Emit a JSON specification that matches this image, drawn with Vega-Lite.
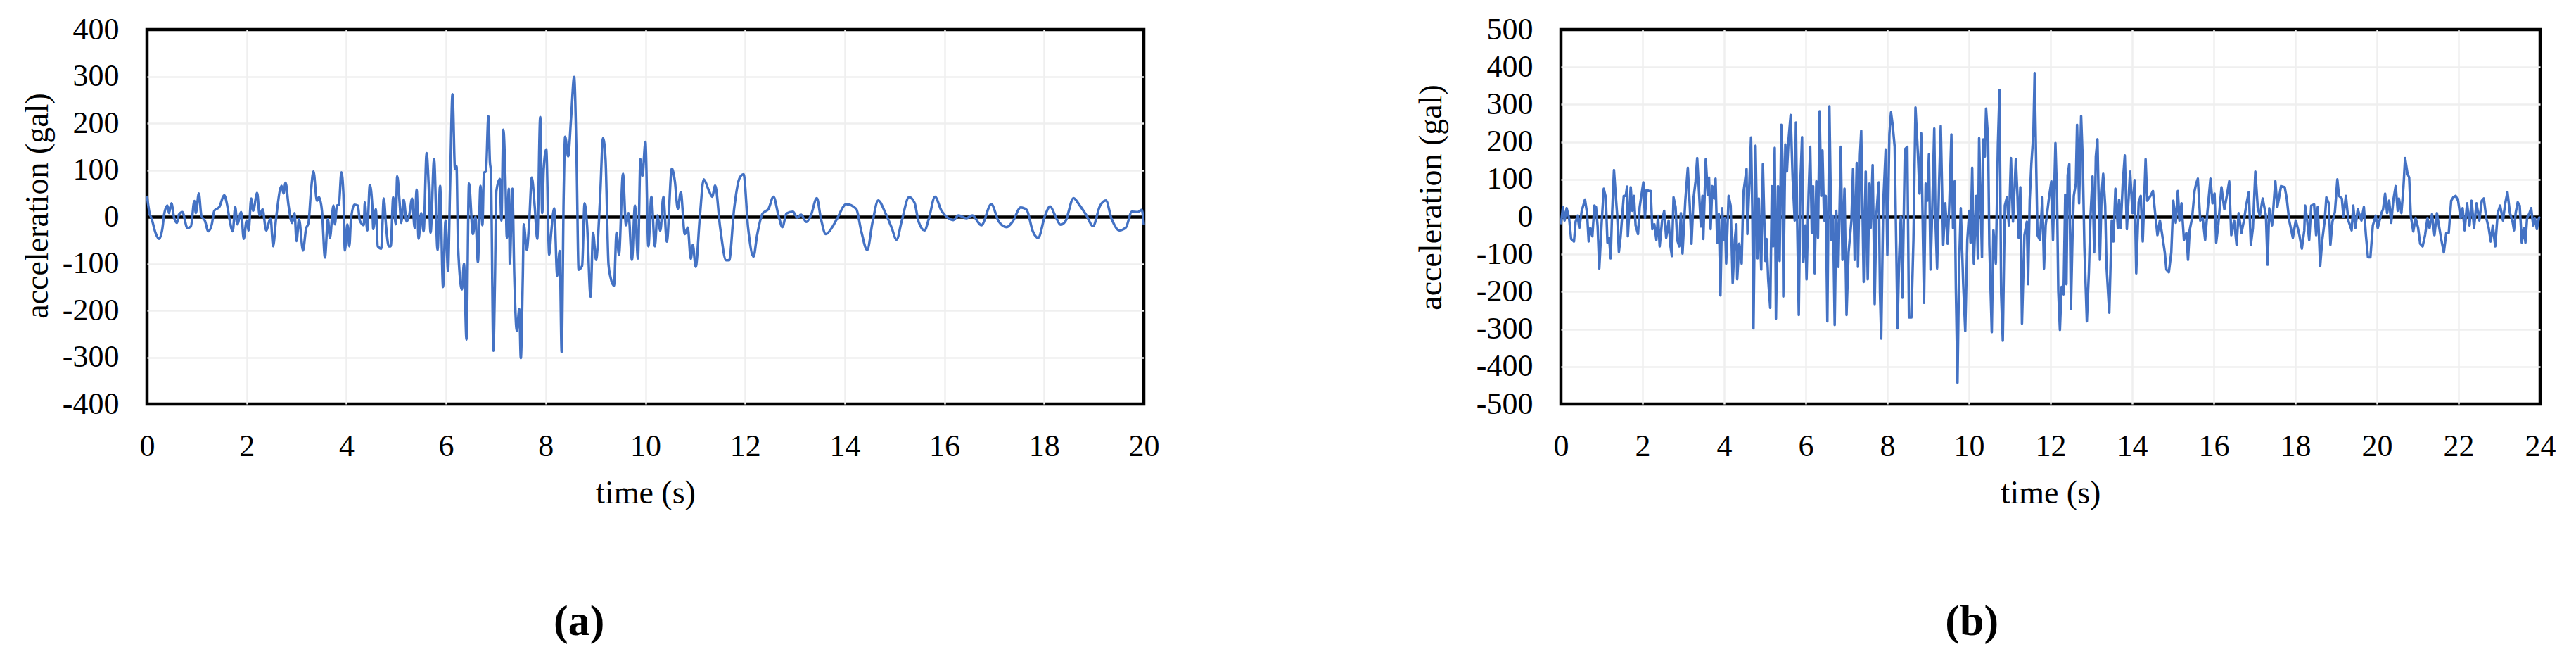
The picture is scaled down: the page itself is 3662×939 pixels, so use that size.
{
"$schema": "https://vega.github.io/schema/vega-lite/v6.json",
"background": "white",
"autosize": {"type": "pad"},
"padding": {"left": 28, "top": 17, "right": 0, "bottom": 0},
"config": {
  "font": "Liberation Serif",
  "view": {"stroke": "black", "strokeWidth": 4.5},
  "axis": {"labelFont": "Liberation Serif", "labelFontSize": 44, "labelColor": "black", "titleFont": "Liberation Serif", "titleFontSize": 46, "titleFontWeight": "normal", "titleColor": "black", "ticks": false, "domain": false, "gridColor": "#efefef", "gridWidth": 2.5, "labelFlush": false, "labelOverlap": false},
  "title": {"font": "Liberation Serif", "fontSize": 62, "fontWeight": "bold", "color": "black"}
},
"datasets": {
"a": [
{"t":0,"a":45},{"t":0.05,"a":8},{"t":0.09,"a":-3},{"t":0.17,"a":-34},{"t":0.24,"a":-47},{"t":0.31,"a":-24},{"t":0.34,"a":3},{"t":0.41,"a":24},{"t":0.44,"a":8},{"t":0.49,"a":29},{"t":0.54,"a":0},{"t":0.6,"a":-13},{"t":0.64,"a":5},{"t":0.71,"a":10},{"t":0.81,"a":-24},{"t":0.88,"a":-21},{"t":0.95,"a":34},{"t":0.98,"a":8},{"t":1.04,"a":50},{"t":1.09,"a":3},{"t":1.16,"a":-8},{"t":1.23,"a":-31},{"t":1.3,"a":-16},{"t":1.35,"a":13},{"t":1.45,"a":21},{"t":1.55,"a":46},{"t":1.61,"a":24},{"t":1.66,"a":-8},{"t":1.72,"a":-31},{"t":1.77,"a":21},{"t":1.81,"a":-16},{"t":1.89,"a":10},{"t":1.94,"a":-47},{"t":2.0,"a":-8},{"t":2.04,"a":-29},{"t":2.09,"a":39},{"t":2.13,"a":13},{"t":2.21,"a":51},{"t":2.26,"a":3},{"t":2.32,"a":16},{"t":2.39,"a":-29},{"t":2.48,"a":-3},{"t":2.53,"a":-63},{"t":2.59,"a":-3},{"t":2.7,"a":66},{"t":2.74,"a":50},{"t":2.78,"a":73},{"t":2.84,"a":24},{"t":2.91,"a":-13},{"t":2.96,"a":8},{"t":3.0,"a":-52},{"t":3.05,"a":-5},{"t":3.13,"a":-72},{"t":3.19,"a":-26},{"t":3.24,"a":-13},{"t":3.29,"a":55},{"t":3.34,"a":97},{"t":3.41,"a":34},{"t":3.45,"a":42},{"t":3.51,"a":13},{"t":3.57,"a":-87},{"t":3.63,"a":-5},{"t":3.67,"a":-45},{"t":3.74,"a":24},{"t":3.77,"a":-16},{"t":3.81,"a":24},{"t":3.85,"a":26},{"t":3.9,"a":95},{"t":3.94,"a":50},{"t":3.97,"a":-72},{"t":4.02,"a":-16},{"t":4.06,"a":-63},{"t":4.09,"a":-8},{"t":4.16,"a":26},{"t":4.23,"a":24},{"t":4.27,"a":-8},{"t":4.35,"a":-18},{"t":4.37,"a":31},{"t":4.42,"a":-29},{"t":4.47,"a":68},{"t":4.52,"a":24},{"t":4.54,"a":-26},{"t":4.59,"a":16},{"t":4.63,"a":-63},{"t":4.7,"a":-68},{"t":4.75,"a":39},{"t":4.8,"a":-24},{"t":4.85,"a":-63},{"t":4.89,"a":-63},{"t":4.94,"a":42},{"t":4.99,"a":-16},{"t":5.02,"a":87},{"t":5.07,"a":29},{"t":5.1,"a":-13},{"t":5.15,"a":37},{"t":5.21,"a":-10},{"t":5.26,"a":3},{"t":5.32,"a":39},{"t":5.37,"a":-24},{"t":5.41,"a":58},{"t":5.45,"a":-47},{"t":5.5,"a":8},{"t":5.55,"a":-31},{"t":5.61,"a":136},{"t":5.65,"a":71},{"t":5.69,"a":-34},{"t":5.76,"a":123},{"t":5.83,"a":-71},{"t":5.88,"a":66},{"t":5.94,"a":-150},{"t":5.99,"a":-8},{"t":6.04,"a":-115},{"t":6.08,"a":60},{"t":6.13,"a":262},{"t":6.18,"a":102},{"t":6.21,"a":108},{"t":6.24,"a":-60},{"t":6.32,"a":-155},{"t":6.36,"a":-100},{"t":6.41,"a":-262},{"t":6.46,"a":71},{"t":6.54,"a":-37},{"t":6.59,"a":0},{"t":6.64,"a":-97},{"t":6.69,"a":66},{"t":6.73,"a":-18},{"t":6.76,"a":94},{"t":6.8,"a":97},{"t":6.85,"a":215},{"t":6.88,"a":118},{"t":6.9,"a":97},{"t":6.95,"a":-286},{"t":6.98,"a":-144},{"t":7.01,"a":55},{"t":7.08,"a":81},{"t":7.11,"a":-8},{"t":7.15,"a":186},{"t":7.19,"a":87},{"t":7.22,"a":-45},{"t":7.26,"a":60},{"t":7.28,"a":-100},{"t":7.33,"a":60},{"t":7.37,"a":-129},{"t":7.42,"a":-244},{"t":7.47,"a":-197},{"t":7.5,"a":-302},{"t":7.54,"a":-129},{"t":7.56,"a":-16},{"t":7.62,"a":-71},{"t":7.67,"a":-8},{"t":7.72,"a":84},{"t":7.78,"a":21},{"t":7.83,"a":-47},{"t":7.89,"a":213},{"t":7.93,"a":8},{"t":7.96,"a":102},{"t":8.01,"a":144},{"t":8.07,"a":-81},{"t":8.11,"a":-34},{"t":8.17,"a":18},{"t":8.23,"a":-126},{"t":8.28,"a":-73},{"t":8.32,"a":-289},{"t":8.36,"a":45},{"t":8.39,"a":171},{"t":8.45,"a":129},{"t":8.51,"a":213},{"t":8.57,"a":299},{"t":8.62,"a":118},{"t":8.66,"a":-113},{"t":8.73,"a":-105},{"t":8.78,"a":29},{"t":8.83,"a":-18},{"t":8.9,"a":-171},{"t":8.95,"a":-34},{"t":9.01,"a":-92},{"t":9.09,"a":39},{"t":9.15,"a":168},{"t":9.2,"a":123},{"t":9.26,"a":-102},{"t":9.3,"a":-129},{"t":9.37,"a":-147},{"t":9.42,"a":-34},{"t":9.47,"a":-81},{"t":9.55,"a":92},{"t":9.61,"a":-18},{"t":9.66,"a":8},{"t":9.73,"a":-92},{"t":9.79,"a":24},{"t":9.85,"a":-89},{"t":9.9,"a":123},{"t":9.94,"a":87},{"t":10.0,"a":160},{"t":10.06,"a":-63},{"t":10.12,"a":43},{"t":10.19,"a":-63},{"t":10.24,"a":3},{"t":10.3,"a":-30},{"t":10.36,"a":43},{"t":10.43,"a":-53},{"t":10.53,"a":103},{"t":10.59,"a":77},{"t":10.65,"a":17},{"t":10.71,"a":53},{"t":10.79,"a":-37},{"t":10.85,"a":-23},{"t":10.91,"a":-90},{"t":10.95,"a":-60},{"t":11.01,"a":-107},{"t":11.09,"a":-3},{"t":11.17,"a":80},{"t":11.27,"a":57},{"t":11.34,"a":43},{"t":11.4,"a":67},{"t":11.5,"a":-23},{"t":11.62,"a":-93},{"t":11.68,"a":-93},{"t":11.78,"a":17},{"t":11.89,"a":83},{"t":11.97,"a":91},{"t":12.06,"a":-23},{"t":12.17,"a":-85},{"t":12.24,"a":-40},{"t":12.35,"a":7},{"t":12.47,"a":17},{"t":12.57,"a":43},{"t":12.67,"a":3},{"t":12.75,"a":-22},{"t":12.83,"a":7},{"t":12.96,"a":11},{"t":13.05,"a":-2},{"t":13.12,"a":5},{"t":13.23,"a":-11},{"t":13.32,"a":3},{"t":13.44,"a":40},{"t":13.52,"a":-3},{"t":13.62,"a":-37},{"t":13.75,"a":-22},{"t":13.85,"a":-3},{"t":14.03,"a":27},{"t":14.23,"a":17},{"t":14.33,"a":-30},{"t":14.45,"a":-71},{"t":14.56,"a":-10},{"t":14.67,"a":35},{"t":14.82,"a":7},{"t":14.94,"a":-23},{"t":15.04,"a":-49},{"t":15.14,"a":-10},{"t":15.29,"a":42},{"t":15.4,"a":30},{"t":15.48,"a":-10},{"t":15.6,"a":-29},{"t":15.69,"a":-3},{"t":15.81,"a":43},{"t":15.94,"a":13},{"t":16.07,"a":-2},{"t":16.18,"a":-7},{"t":16.28,"a":3},{"t":16.44,"a":-3},{"t":16.56,"a":3},{"t":16.74,"a":-18},{"t":16.94,"a":27},{"t":17.09,"a":-10},{"t":17.25,"a":-22},{"t":17.37,"a":-10},{"t":17.53,"a":20},{"t":17.65,"a":15},{"t":17.77,"a":-30},{"t":17.88,"a":-45},{"t":18.02,"a":3},{"t":18.12,"a":22},{"t":18.22,"a":3},{"t":18.33,"a":-17},{"t":18.43,"a":-9},{"t":18.59,"a":40},{"t":18.71,"a":25},{"t":18.85,"a":3},{"t":18.98,"a":-20},{"t":19.12,"a":23},{"t":19.24,"a":35},{"t":19.35,"a":-3},{"t":19.51,"a":-29},{"t":19.64,"a":-23},{"t":19.76,"a":11},{"t":19.88,"a":10},{"t":19.96,"a":15},{"t":20.0,"a":-17}
],
"b": [
{"t":0,"a":-20},{"t":0.05,"a":26},{"t":0.09,"a":-10},{"t":0.14,"a":23},{"t":0.2,"a":-3},{"t":0.25,"a":-59},{"t":0.32,"a":-66},{"t":0.36,"a":-13},{"t":0.41,"a":3},{"t":0.45,"a":-30},{"t":0.51,"a":16},{"t":0.59,"a":46},{"t":0.64,"a":10},{"t":0.68,"a":-66},{"t":0.72,"a":-30},{"t":0.77,"a":-52},{"t":0.82,"a":30},{"t":0.86,"a":26},{"t":0.9,"a":-26},{"t":0.94,"a":-138},{"t":1.0,"a":-13},{"t":1.05,"a":75},{"t":1.1,"a":52},{"t":1.14,"a":-69},{"t":1.18,"a":-56},{"t":1.22,"a":-111},{"t":1.25,"a":-3},{"t":1.3,"a":125},{"t":1.34,"a":62},{"t":1.38,"a":3},{"t":1.42,"a":-94},{"t":1.46,"a":-56},{"t":1.54,"a":56},{"t":1.59,"a":56},{"t":1.62,"a":81},{"t":1.64,"a":-52},{"t":1.71,"a":79},{"t":1.75,"a":16},{"t":1.79,"a":56},{"t":1.83,"a":-23},{"t":1.89,"a":-46},{"t":1.93,"a":26},{"t":2.02,"a":92},{"t":2.06,"a":-3},{"t":2.1,"a":72},{"t":2.16,"a":69},{"t":2.2,"a":69},{"t":2.24,"a":-33},{"t":2.29,"a":-20},{"t":2.34,"a":-62},{"t":2.38,"a":3},{"t":2.42,"a":-79},{"t":2.48,"a":-10},{"t":2.53,"a":16},{"t":2.58,"a":-56},{"t":2.64,"a":-10},{"t":2.68,"a":-75},{"t":2.72,"a":-105},{"t":2.76,"a":52},{"t":2.81,"a":26},{"t":2.85,"a":-62},{"t":2.9,"a":-79},{"t":2.94,"a":10},{"t":2.98,"a":-98},{"t":3.05,"a":46},{"t":3.11,"a":131},{"t":3.16,"a":26},{"t":3.2,"a":-72},{"t":3.25,"a":49},{"t":3.3,"a":95},{"t":3.34,"a":157},{"t":3.39,"a":56},{"t":3.43,"a":-26},{"t":3.47,"a":56},{"t":3.49,"a":-59},{"t":3.55,"a":154},{"t":3.6,"a":59},{"t":3.63,"a":105},{"t":3.67,"a":-33},{"t":3.71,"a":82},{"t":3.76,"a":49},{"t":3.79,"a":102},{"t":3.83,"a":-69},{"t":3.87,"a":7},{"t":3.91,"a":-210},{"t":3.95,"a":23},{"t":3.99,"a":-62},{"t":4.02,"a":-3},{"t":4.05,"a":-125},{"t":4.11,"a":56},{"t":4.16,"a":30},{"t":4.21,"a":-177},{"t":4.26,"a":-62},{"t":4.3,"a":-20},{"t":4.32,"a":-167},{"t":4.37,"a":-72},{"t":4.43,"a":-125},{"t":4.47,"a":62},{"t":4.51,"a":95},{"t":4.55,"a":128},{"t":4.57,"a":-46},{"t":4.62,"a":92},{"t":4.66,"a":212},{"t":4.69,"a":26},{"t":4.72,"a":-298},{"t":4.77,"a":190},{"t":4.82,"a":-111},{"t":4.85,"a":49},{"t":4.91,"a":-141},{"t":4.95,"a":141},{"t":5.01,"a":-118},{"t":5.04,"a":-59},{"t":5.08,"a":-167},{"t":5.13,"a":-243},{"t":5.17,"a":82},{"t":5.2,"a":-79},{"t":5.24,"a":184},{"t":5.27,"a":-272},{"t":5.32,"a":82},{"t":5.36,"a":-118},{"t":5.4,"a":246},{"t":5.43,"a":151},{"t":5.45,"a":-213},{"t":5.5,"a":193},{"t":5.54,"a":121},{"t":5.58,"a":207},{"t":5.63,"a":272},{"t":5.68,"a":102},{"t":5.73,"a":-10},{"t":5.76,"a":252},{"t":5.79,"a":-10},{"t":5.83,"a":-262},{"t":5.87,"a":95},{"t":5.91,"a":213},{"t":5.94,"a":-121},{"t":5.99,"a":-23},{"t":6.02,"a":-167},{"t":6.07,"a":62},{"t":6.11,"a":187},{"t":6.15,"a":-43},{"t":6.18,"a":82},{"t":6.22,"a":-151},{"t":6.26,"a":95},{"t":6.3,"a":-56},{"t":6.34,"a":282},{"t":6.38,"a":56},{"t":6.41,"a":177},{"t":6.45,"a":-10},{"t":6.49,"a":56},{"t":6.53,"a":-279},{"t":6.58,"a":295},{"t":6.63,"a":-62},{"t":6.67,"a":3},{"t":6.71,"a":-289},{"t":6.75,"a":16},{"t":6.8,"a":-134},{"t":6.86,"a":187},{"t":6.9,"a":-115},{"t":6.95,"a":75},{"t":7.0,"a":-262},{"t":7.05,"a":-95},{"t":7.12,"a":-10},{"t":7.16,"a":128},{"t":7.2,"a":-115},{"t":7.25,"a":144},{"t":7.28,"a":-134},{"t":7.33,"a":164},{"t":7.36,"a":230},{"t":7.42,"a":-174},{"t":7.47,"a":121},{"t":7.52,"a":-167},{"t":7.56,"a":89},{"t":7.59,"a":-30},{"t":7.64,"a":138},{"t":7.69,"a":-233},{"t":7.73,"a":3},{"t":7.79,"a":92},{"t":7.82,"a":-203},{"t":7.85,"a":-325},{"t":7.9,"a":36},{"t":7.96,"a":180},{"t":8.0,"a":-102},{"t":8.05,"a":220},{"t":8.09,"a":279},{"t":8.13,"a":246},{"t":8.18,"a":187},{"t":8.25,"a":-298},{"t":8.29,"a":-108},{"t":8.33,"a":0},{"t":8.37,"a":-216},{"t":8.43,"a":180},{"t":8.49,"a":187},{"t":8.53,"a":-269},{"t":8.59,"a":-269},{"t":8.64,"a":-62},{"t":8.69,"a":292},{"t":8.75,"a":167},{"t":8.79,"a":62},{"t":8.83,"a":223},{"t":8.9,"a":-230},{"t":8.94,"a":89},{"t":8.98,"a":43},{"t":9.02,"a":167},{"t":9.06,"a":-141},{"t":9.11,"a":56},{"t":9.15,"a":236},{"t":9.18,"a":-10},{"t":9.22,"a":-138},{"t":9.27,"a":95},{"t":9.31,"a":243},{"t":9.37,"a":-75},{"t":9.42,"a":36},{"t":9.48,"a":-72},{"t":9.52,"a":36},{"t":9.57,"a":220},{"t":9.61,"a":-30},{"t":9.65,"a":95},{"t":9.68,"a":-193},{"t":9.72,"a":-443},{"t":9.76,"a":-131},{"t":9.8,"a":23},{"t":9.86,"a":-180},{"t":9.91,"a":-305},{"t":9.96,"a":-62},{"t":10.01,"a":16},{"t":10.04,"a":-69},{"t":10.08,"a":131},{"t":10.12,"a":-125},{"t":10.18,"a":56},{"t":10.22,"a":-111},{"t":10.25,"a":210},{"t":10.32,"a":-108},{"t":10.35,"a":207},{"t":10.39,"a":161},{"t":10.42,"a":289},{"t":10.47,"a":207},{"t":10.5,"a":-75},{"t":10.56,"a":-308},{"t":10.6,"a":-36},{"t":10.66,"a":-125},{"t":10.71,"a":193},{"t":10.75,"a":339},{"t":10.79,"a":-207},{"t":10.83,"a":-331},{"t":10.88,"a":30},{"t":10.93,"a":52},{"t":10.98,"a":-23},{"t":11.03,"a":157},{"t":11.08,"a":-13},{"t":11.15,"a":154},{"t":11.19,"a":56},{"t":11.22,"a":-56},{"t":11.26,"a":79},{"t":11.3,"a":-285},{"t":11.36,"a":-49},{"t":11.42,"a":-13},{"t":11.45,"a":-180},{"t":11.49,"a":46},{"t":11.53,"a":141},{"t":11.58,"a":223},{"t":11.61,"a":384},{"t":11.65,"a":128},{"t":11.68,"a":-49},{"t":11.74,"a":-62},{"t":11.8,"a":52},{"t":11.84,"a":-138},{"t":11.88,"a":-23},{"t":11.96,"a":49},{"t":12.02,"a":95},{"t":12.06,"a":-62},{"t":12.12,"a":197},{"t":12.16,"a":49},{"t":12.19,"a":-197},{"t":12.23,"a":-302},{"t":12.27,"a":-187},{"t":12.32,"a":-207},{"t":12.36,"a":59},{"t":12.39,"a":-180},{"t":12.42,"a":111},{"t":12.46,"a":141},{"t":12.5,"a":-246},{"t":12.54,"a":-46},{"t":12.57,"a":56},{"t":12.62,"a":89},{"t":12.65,"a":246},{"t":12.7,"a":36},{"t":12.75,"a":269},{"t":12.79,"a":148},{"t":12.83,"a":-82},{"t":12.89,"a":-279},{"t":12.94,"a":-148},{"t":12.98,"a":3},{"t":13.03,"a":108},{"t":13.07,"a":-95},{"t":13.11,"a":161},{"t":13.15,"a":207},{"t":13.21,"a":-115},{"t":13.25,"a":56},{"t":13.29,"a":115},{"t":13.34,"a":30},{"t":13.37,"a":-128},{"t":13.44,"a":-256},{"t":13.5,"a":-10},{"t":13.54,"a":-66},{"t":13.59,"a":75},{"t":13.65,"a":-30},{"t":13.68,"a":46},{"t":13.72,"a":-30},{"t":13.77,"a":89},{"t":13.82,"a":164},{"t":13.87,"a":-33},{"t":13.95,"a":121},{"t":14.01,"a":10},{"t":14.06,"a":98},{"t":14.1,"a":-151},{"t":14.16,"a":39},{"t":14.21,"a":56},{"t":14.26,"a":-66},{"t":14.33,"a":154},{"t":14.37,"a":43},{"t":14.45,"a":56},{"t":14.51,"a":69},{"t":14.57,"a":3},{"t":14.62,"a":-49},{"t":14.68,"a":-10},{"t":14.73,"a":-43},{"t":14.8,"a":-95},{"t":14.84,"a":-141},{"t":14.9,"a":-148},{"t":14.96,"a":-95},{"t":15.01,"a":43},{"t":15.07,"a":-16},{"t":15.12,"a":69},{"t":15.16,"a":-10},{"t":15.21,"a":36},{"t":15.27,"a":-62},{"t":15.33,"a":-43},{"t":15.37,"a":-115},{"t":15.41,"a":-36},{"t":15.47,"a":-3},{"t":15.53,"a":69},{"t":15.57,"a":89},{"t":15.61,"a":102},{"t":15.67,"a":-10},{"t":15.73,"a":-3},{"t":15.79,"a":-62},{"t":15.84,"a":7},{"t":15.92,"a":102},{"t":15.97,"a":36},{"t":16.02,"a":62},{"t":16.06,"a":-69},{"t":16.11,"a":-23},{"t":16.19,"a":79},{"t":16.26,"a":20},{"t":16.32,"a":56},{"t":16.38,"a":95},{"t":16.43,"a":-49},{"t":16.5,"a":-10},{"t":16.56,"a":-75},{"t":16.61,"a":10},{"t":16.68,"a":-43},{"t":16.74,"a":-10},{"t":16.8,"a":33},{"t":16.86,"a":66},{"t":16.91,"a":-75},{"t":16.96,"a":-30},{"t":17.02,"a":121},{"t":17.08,"a":23},{"t":17.13,"a":3},{"t":17.2,"a":49},{"t":17.28,"a":3},{"t":17.32,"a":-128},{"t":17.36,"a":23},{"t":17.43,"a":-23},{"t":17.51,"a":95},{"t":17.56,"a":26},{"t":17.65,"a":82},{"t":17.74,"a":79},{"t":17.79,"a":49},{"t":17.85,"a":-10},{"t":17.94,"a":-56},{"t":18.01,"a":-10},{"t":18.06,"a":-30},{"t":18.1,"a":-49},{"t":18.16,"a":-85},{"t":18.22,"a":-36},{"t":18.24,"a":30},{"t":18.29,"a":-10},{"t":18.34,"a":-62},{"t":18.39,"a":30},{"t":18.46,"a":33},{"t":18.51,"a":-49},{"t":18.55,"a":26},{"t":18.61,"a":-131},{"t":18.66,"a":-62},{"t":18.72,"a":-10},{"t":18.76,"a":52},{"t":18.82,"a":36},{"t":18.86,"a":-75},{"t":18.91,"a":-13},{"t":18.97,"a":13},{"t":19.03,"a":100},{"t":19.07,"a":56},{"t":19.14,"a":49},{"t":19.18,"a":0},{"t":19.24,"a":56},{"t":19.3,"a":-10},{"t":19.38,"a":-36},{"t":19.42,"a":30},{"t":19.47,"a":-30},{"t":19.53,"a":20},{"t":19.62,"a":-10},{"t":19.68,"a":26},{"t":19.73,"a":-49},{"t":19.78,"a":-108},{"t":19.84,"a":-108},{"t":19.9,"a":-23},{"t":19.97,"a":3},{"t":20.02,"a":-30},{"t":20.11,"a":10},{"t":20.15,"a":20},{"t":20.2,"a":62},{"t":20.25,"a":10},{"t":20.3,"a":43},{"t":20.35,"a":-16},{"t":20.4,"a":43},{"t":20.46,"a":82},{"t":20.51,"a":16},{"t":20.54,"a":49},{"t":20.6,"a":10},{"t":20.65,"a":79},{"t":20.69,"a":157},{"t":20.75,"a":115},{"t":20.79,"a":105},{"t":20.83,"a":3},{"t":20.89,"a":-39},{"t":20.95,"a":-3},{"t":21.01,"a":-30},{"t":21.06,"a":-72},{"t":21.12,"a":-79},{"t":21.18,"a":-49},{"t":21.24,"a":-3},{"t":21.29,"a":-30},{"t":21.35,"a":7},{"t":21.41,"a":-49},{"t":21.47,"a":10},{"t":21.53,"a":-30},{"t":21.58,"a":-62},{"t":21.64,"a":-95},{"t":21.7,"a":-43},{"t":21.76,"a":-43},{"t":21.82,"a":43},{"t":21.87,"a":52},{"t":21.93,"a":56},{"t":21.99,"a":43},{"t":22.05,"a":-3},{"t":22.1,"a":23},{"t":22.15,"a":-36},{"t":22.21,"a":36},{"t":22.27,"a":-23},{"t":22.32,"a":43},{"t":22.38,"a":-30},{"t":22.44,"a":36},{"t":22.51,"a":-10},{"t":22.57,"a":43},{"t":22.62,"a":49},{"t":22.68,"a":-3},{"t":22.74,"a":-30},{"t":22.79,"a":-66},{"t":22.84,"a":-23},{"t":22.9,"a":-79},{"t":22.96,"a":10},{"t":23.02,"a":30},{"t":23.09,"a":-10},{"t":23.14,"a":33},{"t":23.2,"a":66},{"t":23.26,"a":10},{"t":23.32,"a":-10},{"t":23.36,"a":-36},{"t":23.4,"a":10},{"t":23.45,"a":39},{"t":23.5,"a":30},{"t":23.55,"a":-69},{"t":23.6,"a":-30},{"t":23.64,"a":-69},{"t":23.68,"a":-3},{"t":23.74,"a":10},{"t":23.78,"a":23},{"t":23.83,"a":-23},{"t":23.87,"a":-3},{"t":23.92,"a":-33},{"t":23.97,"a":-3},{"t":24.0,"a":0}
]
},
"bounds": "flush",
"spacing": 593,
"hconcat": [
{
  "width": 1417, "height": 532,
  "data": {"name": "a"},
  "title": {"text": "(a)", "orient": "bottom", "frame": "bounds", "anchor": "middle", "offset": 130, "dx": -16},
  "mark": {"type": "line", "color": "#4472c4", "strokeWidth": 3.5, "strokeJoin": "round", "interpolate": "monotone"},
  "encoding": {
    "x": {"field": "t", "type": "quantitative", "scale": {"domain": [0, 20], "nice": false},
      "axis": {"values": [0,2,4,6,8,10,12,14,16,18,20], "title": "time (s)", "labelPadding": 38, "titlePadding": 22,
        "gridOpacity": {"condition": {"test": "datum.value === 0 || datum.value === 20", "value": 0}, "value": 1}}},
    "y": {"field": "a", "type": "quantitative", "scale": {"domain": [-400, 400], "nice": false},
      "axis": {"values": [-400,-300,-200,-100,0,100,200,300,400], "title": "acceleration (gal)", "labelPadding": 40, "titlePadding": 11, "titleY": 250, "labelExpr": "'' + datum.value",
        "gridOpacity": {"condition": {"test": "abs(datum.value) === 400", "value": 0}, "value": 1},
        "gridColor": {"condition": {"test": "datum.value === 0", "value": "black"}, "value": "#efefef"},
        "gridWidth": {"condition": {"test": "datum.value === 0", "value": 4.5}, "value": 2.5}}}
  }
},
{
  "width": 1392, "height": 532,
  "data": {"name": "b"},
  "title": {"text": "(b)", "orient": "bottom", "frame": "bounds", "anchor": "middle", "offset": 130, "dx": -19},
  "mark": {"type": "line", "color": "#4472c4", "strokeWidth": 3.5, "strokeJoin": "round"},
  "encoding": {
    "x": {"field": "t", "type": "quantitative", "scale": {"domain": [0, 24], "nice": false},
      "axis": {"values": [0,2,4,6,8,10,12,14,16,18,20,22,24], "title": "time (s)", "labelPadding": 38, "titlePadding": 22,
        "gridOpacity": {"condition": {"test": "datum.value === 0 || datum.value === 24", "value": 0}, "value": 1}}},
    "y": {"field": "a", "type": "quantitative", "scale": {"domain": [-500, 500], "nice": false},
      "axis": {"values": [-500,-400,-300,-200,-100,0,100,200,300,400,500], "title": "acceleration (gal)", "labelPadding": 40, "titlePadding": 40, "titleY": 238, "labelExpr": "'' + datum.value",
        "gridOpacity": {"condition": {"test": "abs(datum.value) === 500", "value": 0}, "value": 1},
        "gridColor": {"condition": {"test": "datum.value === 0", "value": "black"}, "value": "#efefef"},
        "gridWidth": {"condition": {"test": "datum.value === 0", "value": 4.5}, "value": 2.5}}}
  }
}
]
}
